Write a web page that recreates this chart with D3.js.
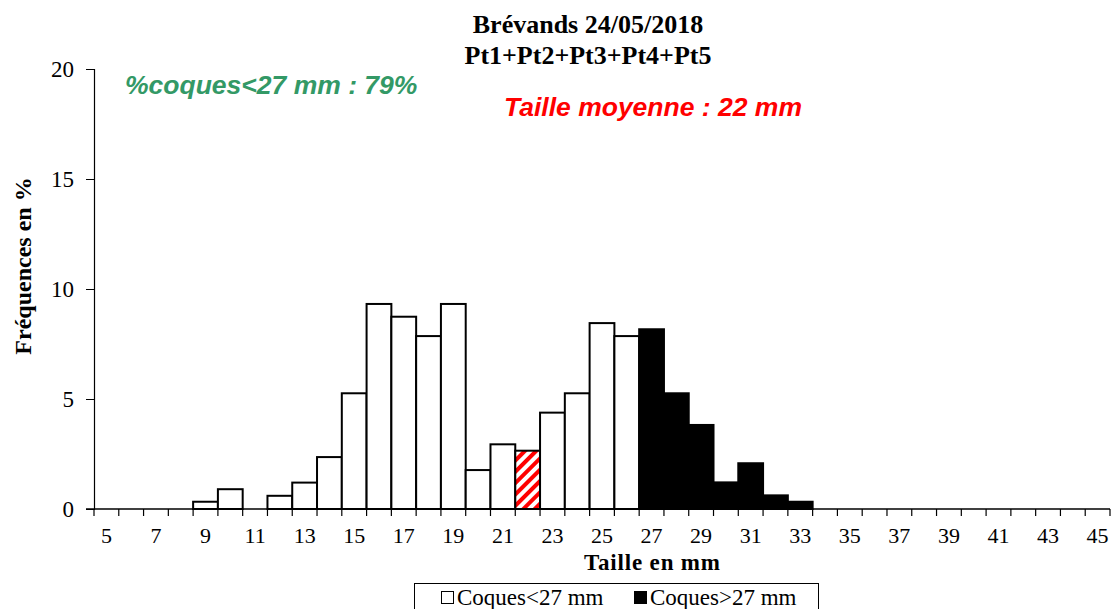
<!DOCTYPE html>
<html>
<head>
<meta charset="utf-8">
<script src="https://cdn.jsdelivr.net/npm/d3@7"></script>
<style>
  body { margin: 0; background: #fff; }
  text { font-family: "Liberation Serif", "Times New Roman", serif; }
</style>
</head>
<body>
<svg id="chart" width="1113" height="609"></svg>
<script>
// size classes in mm
const sizes = d3.range(5, 46);
const freqs = [0, 0, 0, 0, 0.33, 0.9, 0, 0.6, 1.2, 2.36, 5.26, 9.32, 8.74, 7.86, 9.32,
  1.77, 2.94, 2.65, 4.38, 5.26, 8.45, 7.86, 8.17, 5.26, 3.82, 1.21, 2.08, 0.62, 0.33,
  0, 0, 0, 0, 0, 0, 0, 0, 0, 0, 0, 0];
const meanSize = 22;
const threshold = 27;
const yTicks = [0, 5, 10, 15, 20];
const xLabels = d3.range(5, 46, 2);

const svg = d3.select("#chart");
const margin = {left: 94, right: 3, top: 69, bottom: 100};

const x = d3.scaleBand()
  .domain(sizes)
  .range([margin.left, 1110])
  .padding(0);

const y = d3.scaleLinear()
  .domain([0, 20])
  .range([509, 69]);

// hatch pattern for the mean size class
const defs = svg.append("defs");
const pat = defs.append("pattern")
  .attr("id", "hatch")
  .attr("patternUnits", "userSpaceOnUse")
  .attr("width", 8).attr("height", 8)
  .attr("patternTransform", "rotate(45)");
pat.append("rect").attr("width", 8).attr("height", 8).attr("fill", "#fff");
pat.append("rect").attr("width", 4).attr("height", 8).attr("fill", "#ff0000");

// bars
const data = sizes.map((s, i) => ({size: s, value: freqs[i]}));
svg.append("g")
  .selectAll("rect")
  .data(data.filter(d => d.value > 0))
  .enter()
  .append("rect")
  .attr("x", d => x(d.size))
  .attr("y", d => y(d.value))
  .attr("width", x.bandwidth())
  .attr("height", d => y(0) - y(d.value))
  .attr("fill", d => d.size === meanSize ? "url(#hatch)" : (d.size >= threshold ? "#000" : "#fff"))
  .attr("stroke", "#000")
  .attr("stroke-width", 2);

// y axis
const yAxis = svg.append("g")
  .attr("transform", `translate(${margin.left},0)`)
  .call(d3.axisLeft(y).tickValues(yTicks).tickSize(8).tickPadding(12));
yAxis.select(".domain").attr("stroke-width", 1.2);
yAxis.selectAll("text").style("font-size", "23px").attr("font-family", "Liberation Serif");

// x axis: ticks between classes
const xAxis = svg.append("g").attr("transform", `translate(0,${y(0)})`);
xAxis.append("line")
  .attr("x1", margin.left - 8).attr("x2", x.range()[1])
  .attr("stroke", "#000").attr("stroke-width", 1.5);
xAxis.selectAll("line.tick")
  .data(sizes.concat([46]))
  .enter()
  .append("line")
  .attr("class", "tick")
  .attr("x1", d => d === 46 ? x.range()[1] : x(d))
  .attr("x2", d => d === 46 ? x.range()[1] : x(d))
  .attr("y1", 0).attr("y2", 7)
  .attr("stroke", "#000").attr("stroke-width", 1.2);
xAxis.selectAll("text")
  .data(xLabels)
  .enter()
  .append("text")
  .attr("x", d => x(d) + x.bandwidth() / 2)
  .attr("y", 34)
  .attr("text-anchor", "middle")
  .style("font-size", "22px")
  .text(d => d);

// titles
svg.append("text")
  .attr("x", 588).attr("y", 33)
  .attr("text-anchor", "middle")
  .style("font-size", "26px").style("font-weight", "bold")
  .text("Brévands 24/05/2018");
svg.append("text")
  .attr("x", 588).attr("y", 64)
  .attr("text-anchor", "middle")
  .style("font-size", "26px").style("font-weight", "bold")
  .text("Pt1+Pt2+Pt3+Pt4+Pt5");

svg.append("text")
  .attr("x", 652).attr("y", 570)
  .attr("text-anchor", "middle")
  .style("font-size", "23px").style("font-weight", "bold")
  .attr("textLength", 136)
  .text("Taille en mm");

svg.append("text")
  .attr("transform", "translate(31,266) rotate(-90)")
  .attr("text-anchor", "middle")
  .style("font-size", "24px").style("font-weight", "bold")
  .text("Fréquences en %");

// annotations
svg.append("text")
  .attr("x", 125).attr("y", 94)
  .style("font-family", "Liberation Sans, Arial, sans-serif")
  .style("font-size", "26.5px").style("font-weight", "bold").style("font-style", "italic")
  .attr("fill", "#339966")
  .text("%coques<27 mm : 79%");
svg.append("text")
  .attr("x", 504).attr("y", 116)
  .style("font-family", "Liberation Sans, Arial, sans-serif")
  .style("font-size", "26.5px").style("font-weight", "bold").style("font-style", "italic")
  .attr("fill", "#ff0000")
  .text("Taille moyenne : 22 mm");

// legend
const legend = svg.append("g");
legend.append("rect")
  .attr("x", 414.5).attr("y", 583.5)
  .attr("width", 404).attr("height", 40)
  .attr("fill", "#fff").attr("stroke", "#000").attr("stroke-width", 1);
const legendItems = [
  {label: "Coques<27 mm", fill: "#fff", x: 441},
  {label: "Coques>27 mm", fill: "#000", x: 634}
];
legendItems.forEach(d => {
  legend.append("rect")
    .attr("x", d.x + 0.5).attr("y", 591.5)
    .attr("width", 12).attr("height", 12)
    .attr("fill", d.fill).attr("stroke", "#000").attr("stroke-width", 1);
  legend.append("text")
    .attr("x", d.x + 16).attr("y", 605)
    .style("font-size", "23px")
    .text(d.label);
});
</script>
</body>
</html>
